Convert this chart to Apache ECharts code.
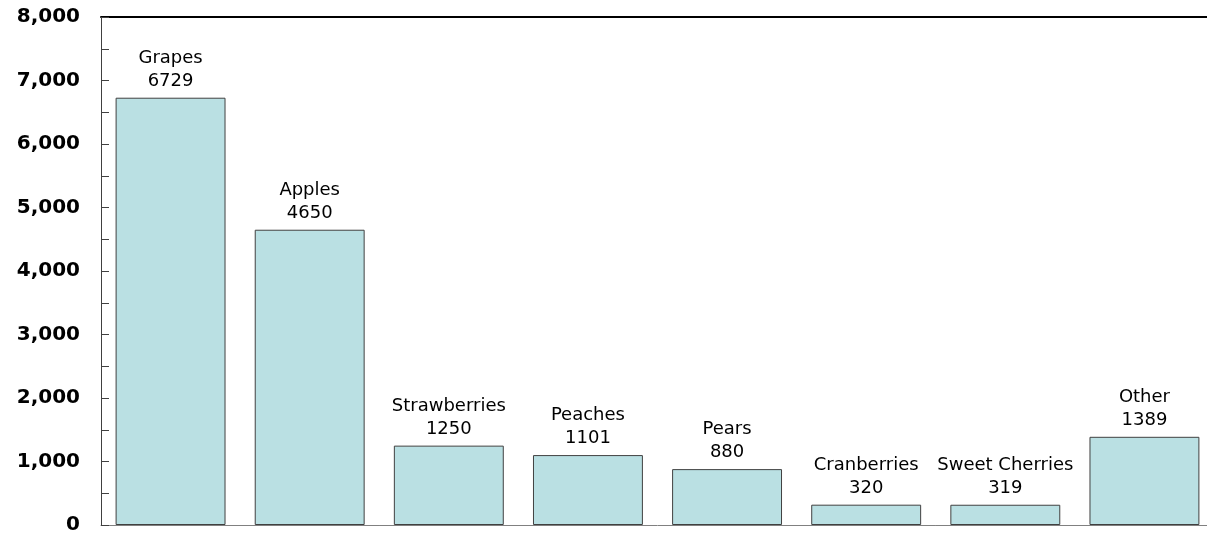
<!DOCTYPE html>
<html><head><meta charset="utf-8">
<script src="https://cdn.jsdelivr.net/npm/echarts@6/dist/echarts.min.js"></script>
<style>html,body{margin:0;padding:0;background:#fff;overflow:hidden}#c{width:1214px;height:535px}</style>
</head><body><div id="c"></div>
<script>
const categories = ['Grapes','Apples','Strawberries','Peaches','Pears','Cranberries','Sweet Cherries','Other'];
const values = [6729, 4650, 1250, 1101, 880, 320, 319, 1389];
const yTicks = [0, 1000, 2000, 3000, 4000, 5000, 6000, 7000, 8000];

const chart = echarts.init(document.getElementById('c'));
chart.setOption({
  animation: false,
  backgroundColor: '#fff',
  grid: {left: 101, right: 0, top: 17, bottom: 8},
  xAxis: [{
    type: 'category', data: categories,
    axisLine: {lineStyle: {color: '#808080', width: 1}},
    axisTick: {show: false}, axisLabel: {show: false}
  }, {
    type: 'category', data: categories, position: 'top',
    axisLine: {lineStyle: {color: '#000', width: 2}},
    axisTick: {show: false}, axisLabel: {show: false}
  }],
  yAxis: {
    type: 'value', min: 0, max: 8000, interval: 500,
    axisLine: {show: true, lineStyle: {color: '#404040'}},
    axisTick: {show: true, inside: true, length: 8, lineStyle: {color: '#404040'}},
    splitLine: {show: false},
    axisLabel: {
      margin: 21, color: '#000', fontFamily: 'DejaVu Sans', fontWeight: 'bold', fontSize: 20,
      formatter: v => (yTicks.includes(v) ? v.toLocaleString('en-US') : '')
    }
  },
  series: [{
    type: 'bar', data: values, barCategoryGap: '21%',
    itemStyle: {color: '#bae0e3', borderColor: '#404040', borderWidth: 1},
    label: {
      show: true, position: 'top', distance: 5,
      color: '#000', fontFamily: 'DejaVu Sans', fontSize: 18, lineHeight: 23,
      formatter: p => p.name + '\n' + p.value
    }
  }]
});
</script></body></html>
